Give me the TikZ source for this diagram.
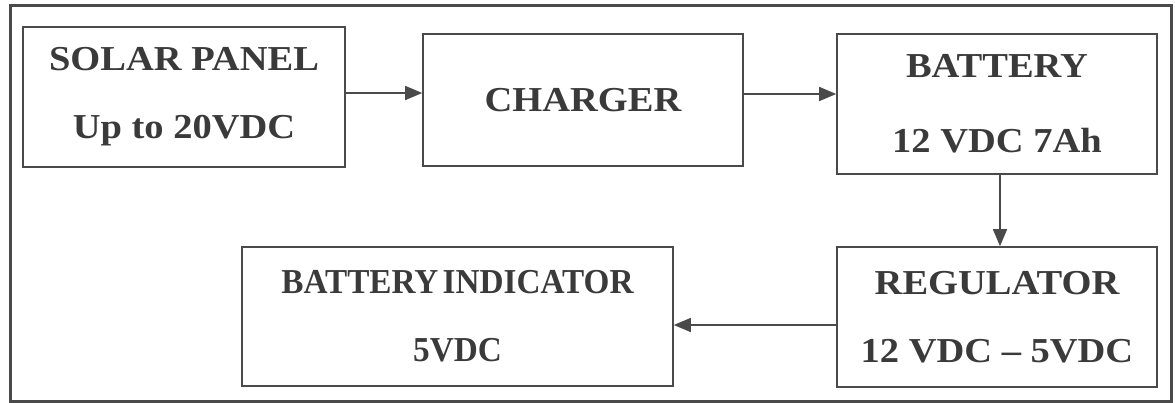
\documentclass[tikz,border=0pt]{standalone}
\usepackage{fontspec}
\setmainfont{Liberation Serif}[FakeStretch=1.1]
\newfontfamily\narrowserif{Liberation Serif}[FakeStretch=0.95]
\newcommand\tightwords{\spaceskip=0.12em\relax}
\usetikzlibrary{arrows.meta}
\definecolor{ink}{HTML}{3A3A3A}
\definecolor{edge}{HTML}{4A4A4A}
\tikzset{
  blk/.style={draw=edge, line width=1.6pt, rectangle, inner sep=0pt, align=center,
    text=ink, font=\fontsize{35}{68}\selectfont\bfseries},
  arr/.style={draw=edge, line width=1.6pt, -{Triangle[length=17pt,width=14pt]}},
  frame/.style={draw=edge, line width=3pt}
}
\begin{document}
\begin{tikzpicture}[x=1pt,y=-1pt]
\useasboundingbox (0,0) rectangle (1175,403);
\draw[frame] (10,6) rectangle (1171,401);
\node[blk, minimum width=322pt, minimum height=140pt] (solar) at (184,97) {SOLAR PANEL\\Up to 20VDC};
\node[blk, minimum width=320pt, minimum height=132pt] (charger) at (583,100) {CHARGER};
\node[blk, minimum width=320pt, minimum height=140pt, font=\fontsize{35}{75}\selectfont\bfseries] (battery) at (997,104) {BATTERY\\12 VDC 7Ah};
\node[blk, minimum width=320pt, minimum height=140pt] (regulator) at (997,317) {REGULATOR\\12 VDC -- 5VDC};
\node[blk, minimum width=431pt, minimum height=139pt, font=\narrowserif\fontsize{35}{68}\selectfont\bfseries\tightwords] (indicator) at (457.5,316.5) {BATTERY INDICATOR\\5VDC};
\draw[arr] (solar.east |- 0,93) -- (charger.west |- 0,93);
\draw[arr] (charger.east |- 0,94) -- (battery.west |- 0,94);
\draw[arr] (battery.south -| 1000,0) -- (regulator.north -| 1000,0);
\draw[arr] (regulator.west |- 0,325) -- (indicator.east |- 0,325);
\end{tikzpicture}
\end{document}
